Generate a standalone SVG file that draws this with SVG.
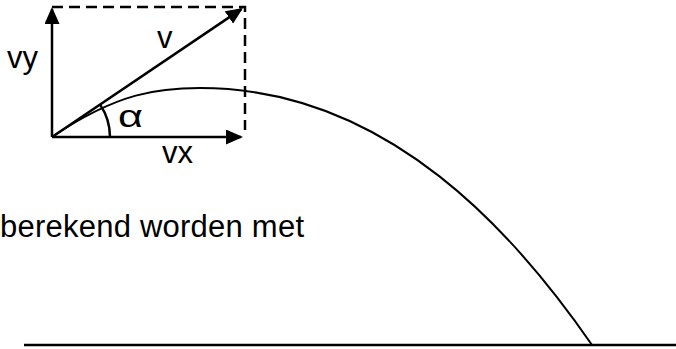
<svg xmlns="http://www.w3.org/2000/svg" width="676" height="349" viewBox="0 0 676 349">
<style>
.ln{stroke:#000;stroke-width:2.5;fill:none}
.cv{stroke:#000;stroke-width:2;fill:none}
.ds{stroke:#000;stroke-width:2.5;fill:none;stroke-dasharray:11 6}
.tx{font-family:"Liberation Sans",Arial,sans-serif;font-size:31px;fill:#000}
</style>
<defs>
<marker id="ah" markerUnits="userSpaceOnUse" markerWidth="17" markerHeight="15" refX="15" refY="7.5" orient="auto">
<path d="M0,0 L17,7.5 L0,15 z" fill="#000"/>
</marker>
</defs>
<rect width="676" height="349" fill="#fff"/>
<g id="ground"><line class="ln" x1="24" y1="345" x2="676" y2="345"/></g>
<g id="trajectory"><path class="cv" d="M52,137 C118,92 160,88 200,88 C390,88 518,238 592,345"/></g>
<g id="components"><path class="ds" d="M52,7 H245 V130"/></g>
<g id="connectors">
<line id="vy-arrow" class="ln" x1="52" y1="137" x2="52" y2="9" marker-end="url(#ah)"/>
<line id="vx-arrow" class="ln" x1="52" y1="137" x2="241" y2="137" marker-end="url(#ah)"/>
<line id="v-arrow" class="ln" x1="52" y1="137" x2="241.3" y2="9.1" marker-end="url(#ah)"/>
<path id="angle-arc" class="ln" d="M110,137 A58,58 0 0 0 100.1,104.6"/>
</g>
<g id="labels">
<text class="tx" x="7" y="68">vy</text>
<text class="tx" x="157" y="48">v</text>
<text class="tx" x="162" y="163">vx</text>
<text class="tx" x="118" y="127" font-size="33" textLength="25" lengthAdjust="spacingAndGlyphs">α</text>
<text class="tx" x="0" y="237" textLength="304">berekend worden met</text>
</g>
</svg>
